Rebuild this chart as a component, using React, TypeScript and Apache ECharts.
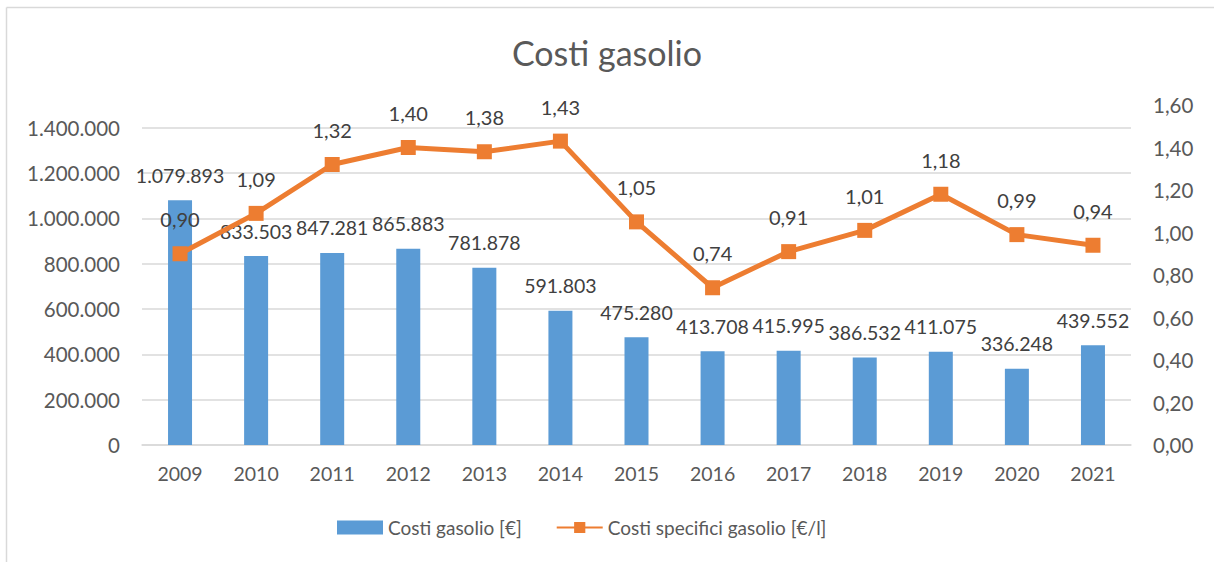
import React, { useEffect, useRef } from "react";
import * as echarts from "echarts";

const years = ["2009", "2010", "2011", "2012", "2013", "2014", "2015", "2016", "2017", "2018", "2019", "2020", "2021"];
const costiGasolio = [1079893, 833503, 847281, 865883, 781878, 591803, 475280, 413708, 415995, 386532, 411075, 336248, 439552];
const costiSpecifici = [0.9, 1.09, 1.32, 1.4, 1.38, 1.43, 1.05, 0.74, 0.91, 1.01, 1.18, 0.99, 0.94];

const fmtThousands = (v: number) => Math.round(v).toString().replace(/\B(?=(\d{3})+(?!\d))/g, ".");
const fmtDec = (v: number) => v.toFixed(2).replace(".", ",");

const FONT = "Lato, 'Noto Sans', sans-serif";
const GRID = "#d9d9d9";

export default function App() {
  const ref = useRef<HTMLDivElement>(null);
  useEffect(() => {
    document.body.style.margin = "0";
    const chart = echarts.init(ref.current!, null, { renderer: "svg" });
    chart.setOption({
      animation: false,
      backgroundColor: "#ffffff",
      textStyle: { fontFamily: FONT },
      title: {
        text: "Costi gasolio",
        left: "center",
        top: 30,
        textStyle: { fontFamily: FONT, fontSize: 34, fontWeight: "normal", color: "#595959" },
      },
      graphic: [
        { type: "line", shape: { x1: 6.5, y1: 7.5, x2: 1214, y2: 7.5 }, style: { stroke: GRID, lineWidth: 1.5 } },
        { type: "line", shape: { x1: 6.5, y1: 7.5, x2: 6.5, y2: 562 }, style: { stroke: GRID, lineWidth: 1.5 } },
      ],
      legend: {
        bottom: 20,
        left: 332,
        itemGap: 34,
        itemWidth: 46,
        itemHeight: 14,
        textStyle: { fontFamily: FONT, fontSize: 19, color: "#595959" },
        data: [
          { name: "Costi gasolio [€]", icon: "rect" },
          { name: "Costi specifici gasolio [€/l]" },
        ],
      },
      grid: { left: 142, right: 83, top: 105, bottom: 117 },
      xAxis: {
        type: "category",
        data: years,
        axisLine: { show: true, lineStyle: { color: GRID, width: 1.5 } },
        axisTick: { show: false },
        axisLabel: { fontFamily: FONT, fontSize: 19.5, color: "#595959", margin: 18 },
      },
      yAxis: [
        {
          type: "value",
          min: 0,
          max: 1500000,
          interval: 200000,
          axisLine: { show: false },
          axisTick: { show: false },
          splitLine: {
            lineStyle: {
              color: [GRID, GRID, GRID, GRID, GRID, GRID, GRID, GRID, "rgba(0,0,0,0)"],
              width: 1.5,
            },
          },
          axisLabel: {
            fontFamily: FONT,
            fontSize: 20.5,
            color: "#595959",
            margin: 22,
            showMaxLabel: false,
            formatter: (v: number) => (v > 1400000 ? "" : fmtThousands(v)),
          },
        },
        {
          type: "value",
          min: 0,
          max: 1.6,
          interval: 0.2,
          axisLine: { show: false },
          axisTick: { show: false },
          splitLine: { show: false },
          axisLabel: {
            fontFamily: FONT,
            fontSize: 20.5,
            color: "#595959",
            margin: 22,
            formatter: (v: number) => fmtDec(v),
          },
        },
      ],
      series: [
        {
          name: "Costi gasolio [€]",
          type: "bar",
          data: costiGasolio,
          barWidth: 24,
          itemStyle: { color: "#5b9bd5" },
          label: {
            show: true,
            position: "top",
            distance: 15,
            fontFamily: FONT,
            fontSize: 19.5,
            color: "#404040",
            formatter: (p: any) => fmtThousands(p.value),
          },
          z: 2,
        },
        {
          name: "Costi specifici gasolio [€/l]",
          type: "line",
          yAxisIndex: 1,
          data: costiSpecifici,
          symbol: "rect",
          symbolSize: 15,
          lineStyle: { color: "#ed7d31", width: 5 },
          itemStyle: { color: "#ed7d31" },
          label: {
            show: true,
            position: "top",
            distance: 17,
            fontFamily: FONT,
            fontSize: 20,
            color: "#404040",
            formatter: (p: any) => fmtDec(p.value),
          },
          z: 3,
        },
      ],
    });
    return () => chart.dispose();
  }, []);
  return <div ref={ref} style={{ width: 1214, height: 562 }} />;
}
